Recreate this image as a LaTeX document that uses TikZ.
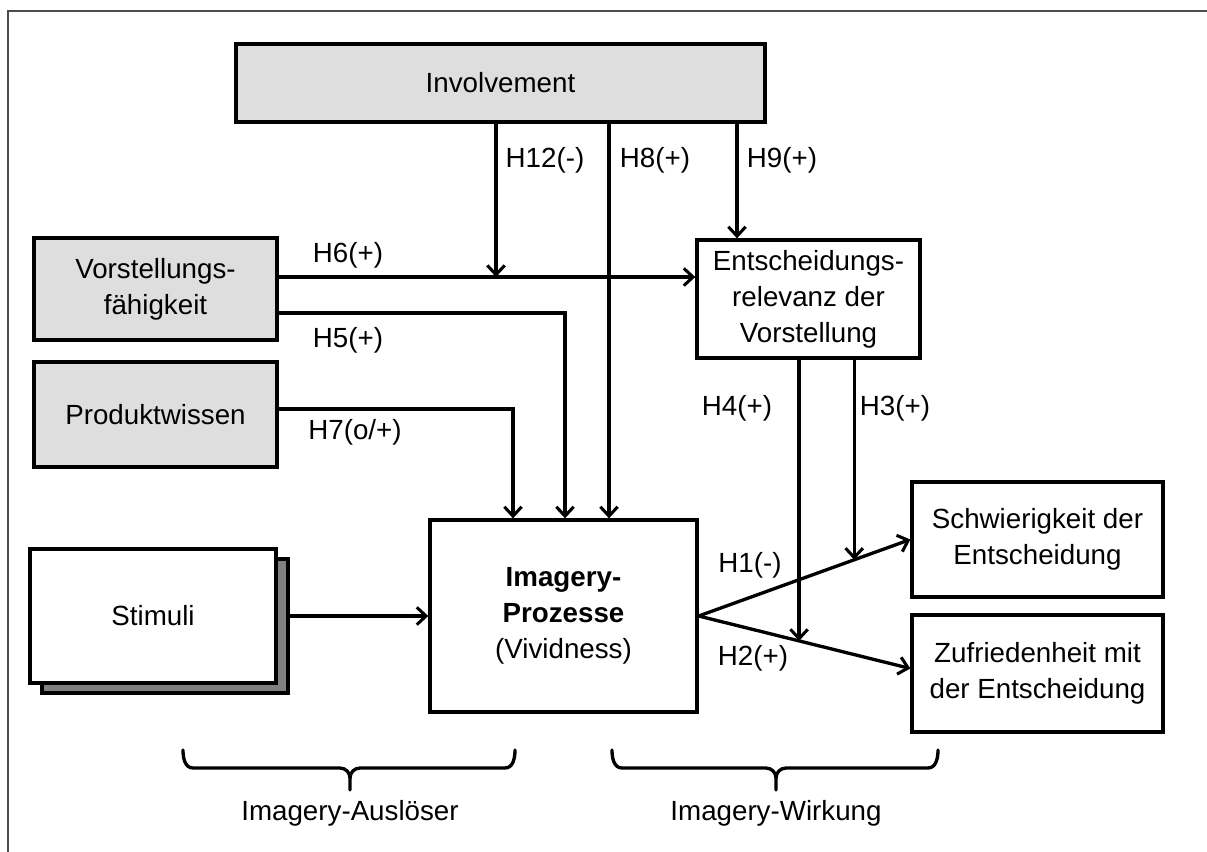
\documentclass[tikz,border=0pt]{standalone}
\usepackage{fontspec}
\setmainfont{Liberation Sans}
\usetikzlibrary{arrows.meta,calc}
\definecolor{boxgray}{gray}{0.87}
\definecolor{shadowgray}{gray}{0.5}
\definecolor{framegray}{gray}{0.3}
\begin{document}
\begin{tikzpicture}[x=0.75pt,y=-0.75pt,
  every node/.style={font=\fontsize{20.8}{27}\selectfont},
  % rect={left}{top}{right}{bottom}, given in px
  rect/.style n args={4}{minimum width={(#3-#1)*0.75pt}, minimum height={(#4-#2)*0.75pt},
    at={({(#1+#3)/2},{(#2+#4)/2})}},
  box/.style={draw=black,line width=2.5pt,fill=white,inner sep=0pt,align=center},
  gbox/.style={box,fill=boxgray},
  ln/.style={line width=2.5pt},
  arr/.style={ln,-{Straight Barb[length=7pt,width=13pt,line width=2.3pt]}},
  lbl/.style={inner sep=0pt}]
\useasboundingbox (0,0) rectangle (1207,852);
% outer frame
\draw[line width=1.5pt, draw=framegray] (8,852) -- (8,11) -- (1207,11);

% boxes
\node[gbox, rect={236}{44}{765}{122}] (inv) {Involvement};
\node[gbox, rect={34}{238}{277}{340}] (vor) {Vorstellungs-\\fähigkeit};
\node[gbox, rect={34}{362}{277}{467}] (prod) {Produktwissen};
\node[box, fill=shadowgray, rect={42}{559}{288}{693}] (stimshadow) {};
\node[box, rect={30}{549}{276}{683}] (stim) {Stimuli};
\node[box, rect={430}{520}{697}{712}] (img) {\textbf{Imagery-}\\\textbf{Prozesse}\\(Vividness)};
\node[box, rect={697}{240}{920}{358}] (ent) {Entscheidungs-\\relevanz der\\Vorstellung};
\node[box, rect={912}{482}{1163}{597}] (sch) {Schwierigkeit der\\Entscheidung};
\node[box, rect={912}{615}{1163}{732}] (zuf) {Zufriedenheit mit\\der Entscheidung};

% helper coordinates
\coordinate (h6y) at (0,277);
\coordinate (h5y) at (0,313);
\coordinate (h7y) at (0,409);
\coordinate (h12x) at (496,0);
\coordinate (h8x) at (609,0);
\coordinate (h9x) at (737,0);
\coordinate (h5x) at (565,0);
\coordinate (h7x) at (513,0);
\coordinate (h2end) at ($(zuf.west)+(0,-5)$);
\coordinate (h4end) at ($(img.east)!0.4744!(h2end)$);
\coordinate (h3end) at ($(img.east)!0.7349!(sch.west)$);

% connectors
\draw[arr] (vor.east |- h6y) -- (ent.west |- h6y);
\draw[arr] (inv.south -| h12x) -- (h12x |- h6y);
\draw[arr] (inv.south -| h8x) -- (img.north -| h8x);
\draw[arr] (inv.south -| h9x) -- (ent.north -| h9x);
\draw[arr] (vor.east |- h5y) -- (h5x |- h5y) -- (img.north -| h5x);
\draw[arr] (prod.east |- h7y) -- (h7x |- h7y) -- (img.north -| h7x);
\draw[arr] (stimshadow.east |- img.west) -- (img.west);
\draw[arr] (img.east) -- (sch.west);
\draw[arr] (img.east) -- (h2end);
\draw[arr] (h4end |- ent.south) -- (h4end);
\draw[arr] (h3end |- ent.south) -- (h3end);

% labels
\node[lbl] (l12) at (545,160) {H12(-)};
\node[lbl] (l8) at (655,160) {H8(+)};
\node[lbl] (l9) at (782,160) {H9(+)};
\node[lbl] (l6) at (348,255) {H6(+)};
\node[lbl] (l5) at (348,340) {H5(+)};
\node[lbl] (l7) at (355,432) {H7(o/+)};
\node[lbl] (l4) at (737,408) {H4(+)};
\node[lbl] (l3) at (895,408) {H3(+)};
\node[lbl] (l1) at (750,565) {H1(-)};
\node[lbl] (l2) at (753,658) {H2(+)};

% braces
\draw[ln, line cap=round] (183,750) to[out=-90,in=180] (193,768) -- (340,768)
  to[out=0,in=90] (350,778) -- (350,790);
\draw[ln, line cap=round] (350,778) to[out=90,in=180] (360,768) -- (505,768)
  to[out=0,in=-90] (515,750);
\draw[ln, line cap=round] (612,750) to[out=-90,in=180] (622,768) -- (766,768)
  to[out=0,in=90] (776,778) -- (776,790);
\draw[ln, line cap=round] (776,778) to[out=90,in=180] (786,768) -- (928,768)
  to[out=0,in=-90] (938,750);
\node[lbl] (aus) at (350,813) {Imagery-Auslöser};
\node[lbl] (wir) at (776,813) {Imagery-Wirkung};
\end{tikzpicture}
\end{document}
